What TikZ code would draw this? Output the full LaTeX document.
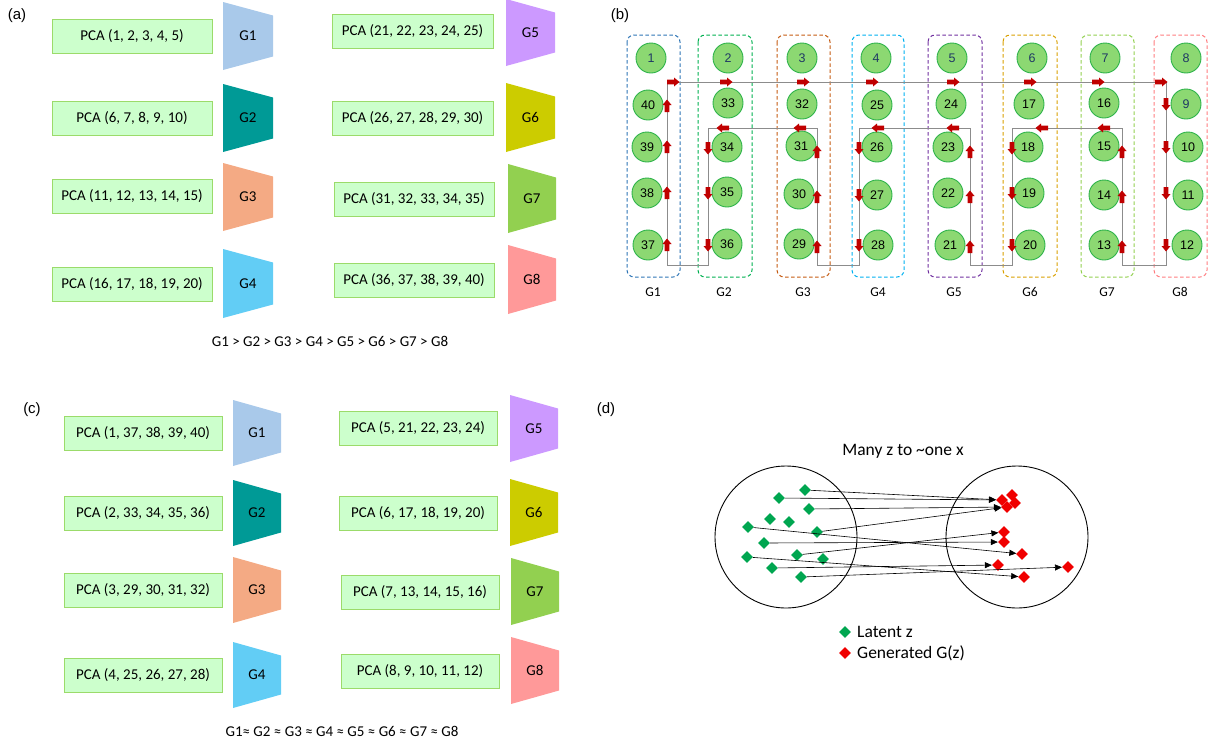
\documentclass[tikz,border=0pt]{standalone}
\usepackage{fontspec}
\setmainfont{Carlito}
\newfontfamily\arialf{Liberation Sans}
\usetikzlibrary{shapes.geometric,arrows.meta}
\definecolor{pcafill}{HTML}{CCFFCC}
\definecolor{pcaline}{HTML}{9BDB6A}
\definecolor{cg1}{HTML}{A9C9EA}
\definecolor{cg2}{HTML}{009A96}
\definecolor{cg3}{HTML}{F4AA84}
\definecolor{cg4}{HTML}{62CDF5}
\definecolor{cg5}{HTML}{CC99FF}
\definecolor{cg6}{HTML}{CCCC00}
\definecolor{cg7}{HTML}{92D050}
\definecolor{cg8}{HTML}{FF9999}
\definecolor{bx1}{HTML}{2E75B6}
\definecolor{bx2}{HTML}{00B050}
\definecolor{bx3}{HTML}{C55A11}
\definecolor{bx4}{HTML}{00B0F0}
\definecolor{bx5}{HTML}{7030A0}
\definecolor{bx6}{HTML}{D9A000}
\definecolor{bx7}{HTML}{92D050}
\definecolor{bx8}{HTML}{FF7C80}
\definecolor{circfill}{HTML}{8CD872}
\definecolor{circline}{HTML}{2DB34A}
\definecolor{navy}{HTML}{1F3864}
\definecolor{arrred}{HTML}{C00000}
\definecolor{latent}{HTML}{00A650}
\definecolor{gen}{HTML}{F00000}
\newcommand\trapez[7]{%
  \fill[#5] (#1,#3) -- (#2,#3+13.5) -- (#2,#4-13.5) -- (#1,#4) -- cycle;
  \node[txt] (#7) at ({(#1+#2)/2},{(#3+#4)/2}) {#6};}
\newcommand\redarr[3]{\fill[arrred,shift={(#1,#2)},rotate=#3] (-6,-2.3) -- (1,-2.3) -- (1,-4.5) -- (6.5,0) -- (1,4.5) -- (1,2.3) -- (-6,2.3) -- cycle;}
\tikzset{
  txt/.style={font=\fontsize{15}{17}\selectfont, inner sep=0pt},
  pca/.style={draw=pcaline, fill=pcafill, line width=1pt, minimum height=34pt, inner sep=0pt, font=\fontsize{15}{17}\selectfont},
  lbl/.style={font=\arialf\fontsize{15}{17}\selectfont, inner sep=0pt},
  num/.style={circle, draw=circline, fill=circfill, line width=0.9pt, minimum size=30pt, inner sep=0pt, font=\arialf\fontsize{12.5}{14}\selectfont},
  grp/.style={dashed, dash pattern=on 3.5pt off 2.5pt, line width=1pt, rounded corners=7pt},
  zlat/.style={diamond, fill=latent, minimum size=12pt, inner sep=0pt},
  zgen/.style={diamond, fill=gen, minimum size=12pt, inner sep=0pt},
  zarr/.style={-{Triangle[length=7pt,width=6pt]}, line width=0.6pt, black},
  dtxt/.style={font=\fontsize{17.5}{20}\selectfont, inner sep=0pt},
}
\begin{document}
\begin{tikzpicture}[x=1pt,y=-1pt]
\useasboundingbox (0,0) rectangle (1216,745);
% ---------------- panel (a)
\node[lbl] (la) at (17,16) {(a)};
\node[pca, minimum width=160pt] (pa1) at (132,36) {PCA (1, 2, 3, 4, 5)};
\node[pca, minimum width=160pt] (pa2) at (132,118) {PCA (6, 7, 8, 9, 10)};
\node[pca, minimum width=160pt] (pa3) at (132,196.5) {PCA (11, 12, 13, 14, 15)};
\node[pca, minimum width=160pt] (pa4) at (132,284.5) {PCA (16, 17, 18, 19, 20)};
\node[pca, minimum width=161pt] (pa5) at (412.5,31.5) {PCA (21, 22, 23, 24, 25)};
\node[pca, minimum width=161pt] (pa6) at (412.5,118) {PCA (26, 27, 28, 29, 30)};
\node[pca, minimum width=160pt] (pa7) at (414,199.5) {PCA (31, 32, 33, 34, 35)};
\node[pca, minimum width=160pt] (pa8) at (414,280.5) {PCA (36, 37, 38, 39, 40)};
\trapez{223}{273}{2}{70}{cg1}{G1}{ga1}
\trapez{223}{273}{84}{152}{cg2}{G2}{ga2}
\trapez{223}{273}{163}{231}{cg3}{G3}{ga3}
\trapez{223}{273}{249}{318}{cg4}{G4}{ga4}
\trapez{506}{555}{-1}{66}{cg5}{G5}{ga5}
\trapez{506}{555}{83}{152}{cg6}{G6}{ga6}
\trapez{508}{556}{164}{233}{cg7}{G7}{ga7}
\trapez{508}{556}{245}{314}{cg8}{G8}{ga8}
\node[txt] (orda) at (330,341) {G1 > G2 > G3 > G4 > G5 > G6 > G7 > G8};
% ---------------- panel (c)
\node[lbl] (lc) at (32,410) {(c)};
\node[pca, minimum width=158pt] (pc1) at (143,433) {PCA (1, 37, 38, 39, 40)};
\node[pca, minimum width=158pt] (pc2) at (143,513.5) {PCA (2, 33, 34, 35, 36)};
\node[pca, minimum width=158pt] (pc3) at (143,590) {PCA (3, 29, 30, 31, 32)};
\node[pca, minimum width=158pt] (pc4) at (143,675) {PCA (4, 25, 26, 27, 28)};
\node[pca, minimum width=158pt] (pc5) at (418,428.5) {PCA (5, 21, 22, 23, 24)};
\node[pca, minimum width=158pt] (pc6) at (418,513.5) {PCA (6, 17, 18, 19, 20)};
\node[pca, minimum width=158pt] (pc7) at (420,592.5) {PCA (7, 13, 14, 15, 16)};
\node[pca, minimum width=158pt] (pc8) at (420,671.5) {PCA (8, 9, 10, 11, 12)};
\trapez{233}{281}{400}{466}{cg1}{G1}{gc1}
\trapez{233}{281}{480}{546}{cg2}{G2}{gc2}
\trapez{233}{281}{557}{623}{cg3}{G3}{gc3}
\trapez{233}{281}{642}{708}{cg4}{G4}{gc4}
\trapez{510}{558}{395}{462}{cg5}{G5}{gc5}
\trapez{510}{558}{479}{546}{cg6}{G6}{gc6}
\trapez{511}{559}{558}{625}{cg7}{G7}{gc7}
\trapez{511}{559}{637}{704}{cg8}{G8}{gc8}
\node[txt] (ordc) at (342,731) {G1≈ G2 ≈ G3 ≈ G4 ≈ G5 ≈ G6 ≈ G7 ≈ G8};
% ---------------- panel (b)
\node[lbl] (lb) at (620,16) {(b)};
\draw[grp, bx1] (627,35) rectangle (680,277);
\draw[grp, bx2] (698,35) rectangle (752,277);
\draw[grp, bx3] (777,35) rectangle (830,277);
\draw[grp, bx4] (852,35) rectangle (904,277);
\draw[grp, bx5] (928,35) rectangle (982,277);
\draw[grp, bx6] (1003,35) rectangle (1057,277);
\draw[grp, bx7] (1081,35) rectangle (1134,277);
\draw[grp, bx8] (1154,35) rectangle (1207,277);
\foreach \g/\x in {1/653,2/724,3/803,4/878,5/954,6/1030,7/1107,8/1180}
  \node[txt, font=\fontsize{13.5}{15}\selectfont] (cl\g) at (\x,292) {G\g};
% snake path
\draw[gray!90, line width=1pt] (667,82) -- (1166,82) -- (1166,265) -- (1122,265) -- (1122,128) -- (1012,128) -- (1012,265) -- (970,265) -- (970,128) -- (859,128) -- (859,265) -- (817,265) -- (817,128) -- (708,128) -- (708,265) -- (667,265) -- cycle;
% circles
\foreach \n/\x/\y in {40/648/105,39/647/147,38/647/193,37/648/245,
  33/728/103,34/727/147,35/727/192,36/727/244,
  32/802/104,31/801/146,30/799/194,29/799/244,
  25/877/105,26/877/147,27/877/195,28/878/245,
  24/951/104,23/948/147,22/948/193,21/950/245,
  17/1029/104,18/1028/147,19/1029/193,20/1030/245,
  16/1104/103,15/1104/146,14/1104/195,13/1104/245,
  10/1188/147,11/1188/195,12/1187/245}
  \node[num] (n\n) at (\x,\y) {\n};
\foreach \n/\x in {1/651,2/728,3/802,4/876,5/952,6/1032,7/1105,8/1186}
  \node[num, text=navy] (n\n) at (\x,58) {\n};
\node[num, text=navy] (n9) at (1186,104) {9};
% red arrows
\foreach \x in {673,726,803,872,953,1030,1098,1161} {\redarr{\x}{82}{0}}
\foreach \x in {723,800,878,953,1042,1104} {\redarr{\x}{128}{180}}
\foreach \y in {106,147,193,245} {\redarr{667}{\y}{90}}
\foreach \y in {148,193,245} {\redarr{708}{\y}{-90}}
\foreach \y in {152,197,247} {\redarr{817}{\y}{90}}
\foreach \y in {148,195,245} {\redarr{859}{\y}{-90}}
\foreach \y in {152,197,247} {\redarr{970}{\y}{90}}
\foreach \y in {148,193,245} {\redarr{1012}{\y}{-90}}
\foreach \y in {152,197,247} {\redarr{1122}{\y}{90}}
\foreach \y in {104,147,193,245} {\redarr{1166}{\y}{-90}}
% ---------------- panel (d)
\node[lbl] (ld) at (606,410) {(d)};
\node[dtxt] (title) at (903,451) {Many z to \textasciitilde one x};
\node[circle, draw, line width=0.9pt, minimum size=142pt, inner sep=0pt] (zc) at (786,537) {};
\node[circle, draw, line width=0.9pt, minimum size=142pt, inner sep=0pt] (xc) at (1017,537) {};
\foreach \n/\x/\y in {1/805/490,2/779/498,3/809/509,4/770/519,5/789/522,6/748/527,7/817/532,8/764/543,9/797/555,10/747/557,11/823/559,12/772/568,13/801/577}
  \node[zlat] (z\n) at (\x,\y) {};
\foreach \n/\x/\y in {a/1002/500,b/1012/495,c/1015/503,d/1007/507,e/1004/532,f/1004/542,g/1022/554,h/998/565,i/1024/577,j/1068/567}
  \node[zgen] (r\n) at (\x,\y) {};
\draw[zarr] (z1) -- (ra);
\draw[zarr] (z2) -- (ra);
\draw[zarr] (z3) -- (rd);
\draw[zarr] (z7) -- (rd);
\draw[zarr] (z6) -- (rg);
\draw[zarr] (z8) -- (rf);
\draw[zarr] (z9) -- (re);
\draw[zarr] (z10) -- (ri);
\draw[zarr] (z12) -- (rh);
\draw[zarr] (z13) -- (rj);
\node[zlat] (leg1) at (845,632) {};
\node[dtxt, anchor=west] (legt1) at (857,632) {Latent z};
\node[zgen] (leg2) at (845,653) {};
\node[dtxt, anchor=west] (legt2) at (857,653) {Generated G(z)};
\end{tikzpicture}
\end{document}
